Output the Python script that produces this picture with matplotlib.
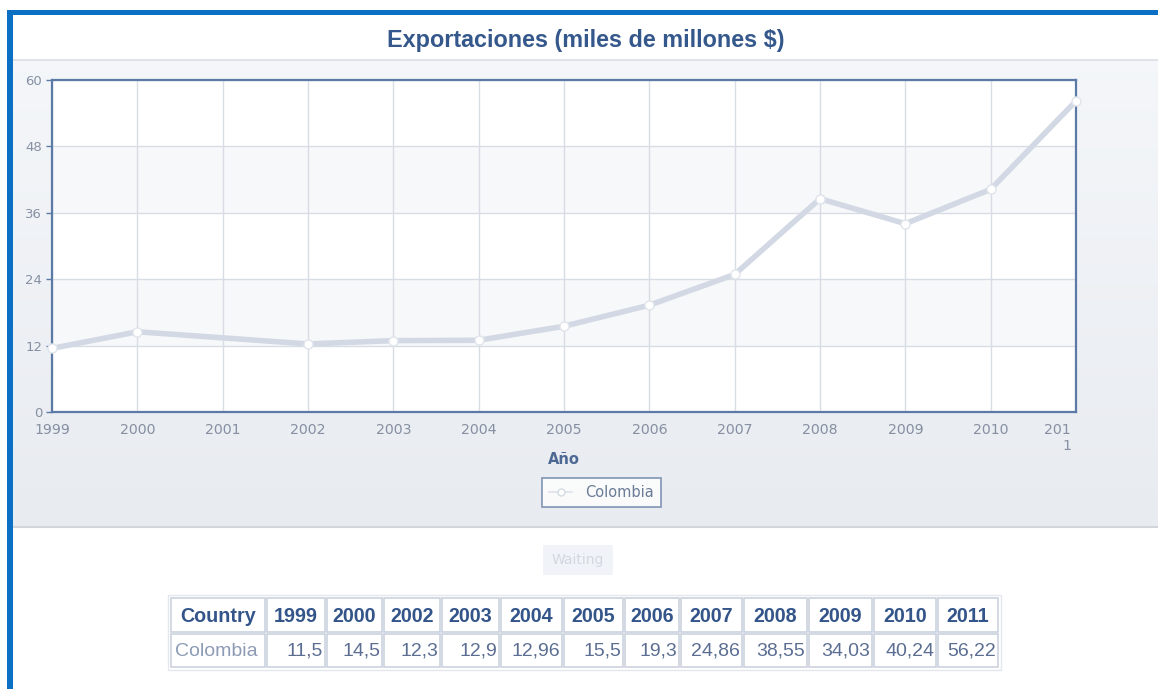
import numpy as np
import matplotlib
matplotlib.use("Agg")
import matplotlib.pyplot as plt
from matplotlib.patches import Rectangle
from matplotlib.lines import Line2D
import matplotlib.transforms as mtransforms

plt.rcParams["font.family"] = ["DejaVu Sans"]

# ---- data ----
country = "Colombia"
years = [1999, 2000, 2002, 2003, 2004, 2005, 2006, 2007, 2008, 2009, 2010, 2011]
exports = [11.5, 14.5, 12.3, 12.9, 12.96, 15.5, 19.3, 24.86, 38.55, 34.03, 40.24, 56.22]
axis_years = list(range(1999, 2012))
y_ticks = [0, 12, 24, 36, 48, 60]
title = "Exportaciones (miles de millones $)"
x_label = "Año"

W, H = 1158, 689
fig = plt.figure(figsize=(W / 100, H / 100), dpi=100)
fig.patch.set_facecolor("white")

# ---- page background drawn in pixel coordinates ----
bg = fig.add_axes([0, 0, 1, 1], zorder=0)
bg.set_xlim(0, W)
bg.set_ylim(H, 0)
bg.axis("off")

# gradient chart panel
grad = np.linspace(0, 1, 256)[:, None]
top_c = np.array([0.958, 0.967, 0.980])
bot_c = np.array([0.910, 0.922, 0.940])
img = top_c[None, None, :] * (1 - grad[:, :, None]) + bot_c[None, None, :] * grad[:, :, None]
bg.imshow(img, extent=[12, W, 526, 60], aspect="auto", zorder=1)
bg.plot([12, W], [60, 60], color="#dadee4", lw=1.2, zorder=2)
bg.plot([12, W], [526.5, 526.5], color="#d2d6dc", lw=1.5, zorder=2)

# blue frame
bg.add_patch(Rectangle((7, 10), W - 7, 4.5, color="#0b6fc3", zorder=5, lw=0))
bg.add_patch(Rectangle((7, 10), 5.5, H - 10, color="#0b6fc3", zorder=5, lw=0))

# title and axis caption
bg.text(585.5, 40, title, ha="center", va="center", fontsize=16.8,
        fontweight="bold", family="Liberation Sans", color="#35588c", zorder=3)
bg.text(564, 459, x_label, ha="center", va="center", fontsize=10.5,
        fontweight="bold", color="#4d6893", zorder=3)

# "Waiting" placeholder
bg.add_patch(Rectangle((543, 545), 70, 30, facecolor="#f0f3f7", edgecolor="none", zorder=2))
bg.text(578, 560, "Waiting", ha="center", va="center", fontsize=10,
        color="#d2d8e1", zorder=3)

# ---- data table ----
col_edges = [170, 266, 326, 383, 441, 500, 563, 624, 680, 743, 808, 873, 937, 999]
row_edges = [597, 633, 668]
header = ["Country"] + [str(y) for y in years]
row = [country] + [f"{v:g}".replace(".", ",") for v in exports]
bg.add_patch(Rectangle((col_edges[0] - 2, row_edges[0] - 2),
                       col_edges[-1] - col_edges[0] + 4, row_edges[-1] - row_edges[0] + 4,
                       facecolor="white", edgecolor="#e4e8ee", lw=1.0, zorder=2))
for i in range(len(header)):
    x0, x1 = col_edges[i], col_edges[i + 1]
    for r, (y0, y1) in enumerate(zip(row_edges[:-1], row_edges[1:])):
        bg.add_patch(Rectangle((x0 + 1, y0 + 1), x1 - x0 - 2, y1 - y0 - 2,
                               facecolor="white", edgecolor="#c7cfdb", lw=1.1, zorder=3))
    bg.text((x0 + x1) / 2, (row_edges[0] + row_edges[1]) / 2 + 1, header[i],
            ha="center", va="center", fontsize=14.2, fontweight="bold",
            family="Liberation Sans", color="#34558a", zorder=4)
    if i == 0:
        bg.text(x0 + 5, (row_edges[1] + row_edges[2]) / 2 + 1, row[i],
                ha="left", va="center", fontsize=14, family="Liberation Sans",
                color="#8d9bb5", zorder=4)
    else:
        bg.text(x1 - 3, (row_edges[1] + row_edges[2]) / 2 + 1, row[i],
                ha="right", va="center", fontsize=14, family="Liberation Sans",
                color="#5b6e92", zorder=4)

# ---- chart axes ----
ax = fig.add_axes([52 / W, 1 - 412 / H, 1024 / W, 332 / H], zorder=2)
ax.set_facecolor("white")
ax.set_xlim(axis_years[0], axis_years[-1])
ax.set_ylim(y_ticks[0], y_ticks[-1])

# alternating row bands
for k in range(len(y_ticks) - 1):
    if k % 2 == 1:
        ax.axhspan(y_ticks[k], y_ticks[k + 1], color="#f6f8fa", lw=0, zorder=0)

ax.set_yticks(y_ticks)
ax.set_xticks(axis_years)
labels = [str(y) for y in axis_years]
labels[-1] = "201\n1"
ax.set_xticklabels(labels)
ax.grid(True, color="#d8dde5", lw=1.0, zorder=1)
ax.set_axisbelow(True)
for s in ax.spines.values():
    s.set_color("#5b7aa6")
    s.set_linewidth(1.6)
ax.tick_params(axis="y", length=4, width=1, color="#5b7aa6", pad=3,
               labelsize=9.5, labelcolor="#8690a2")
ax.tick_params(axis="x", length=0, pad=8, labelsize=10.2, labelcolor="#8690a2")
last = ax.get_xticklabels()[-1]
last.set_horizontalalignment("right")
last.set_multialignment("right")
last.set_transform(last.get_transform() + mtransforms.ScaledTranslation(-5 / 100, 0, fig.dpi_scale_trans))

line, = ax.plot(years, exports, color="#d3d9e4", lw=4, solid_joinstyle="round",
                solid_capstyle="round", zorder=3, clip_on=False)
ax.plot(years, exports, linestyle="none", marker="o", ms=6.5, mfc="white",
        mec="#e0e5ec", mew=1.0, zorder=4, clip_on=False)

handle = Line2D([], [], color="#dfe3ea", lw=1.2, marker="o", ms=5, mfc="white",
                mec="#d5dbe4", mew=1.0)
leg = fig.legend([handle], [country], loc="center",
                 bbox_to_anchor=(601.5 / W, 1 - 492.5 / H),
                 frameon=True, fancybox=False, shadow=False, fontsize=10.5,
                 handlelength=1.6, handletextpad=0.9, borderpad=0.45,
                 borderaxespad=0, labelcolor="#6a7b97")
leg.get_frame().set_edgecolor("#6f86aa")
leg.get_frame().set_linewidth(1.3)
leg.get_frame().set_facecolor("white")

fig.savefig("out.png", dpi=100, facecolor=fig.get_facecolor())
